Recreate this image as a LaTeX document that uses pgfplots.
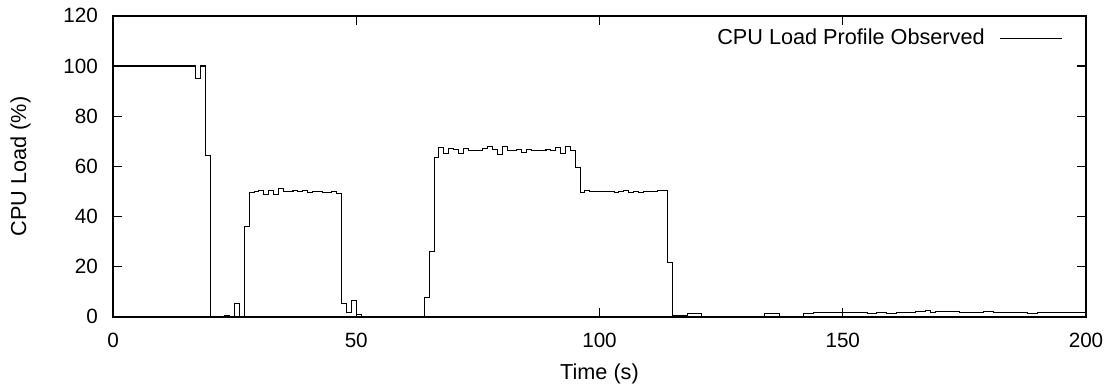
\documentclass[border=0pt]{standalone}
\usepackage{pgfplots}
\pgfplotsset{compat=1.18}
\usepackage{fontspec}
\setmainfont{Liberation Sans}
\begin{document}
\fontsize{15.5}{18}\selectfont
\begin{tikzpicture}
\useasboundingbox (-84.75pt,-54.2pt) rectangle (750.75pt,237.65pt);
\begin{axis}[
  at={(0,0)}, anchor=south west,
  scale only axis, width=729.75pt, height=225.75pt,
  xmin=0, xmax=200, ymin=0, ymax=120,
  xtick={0,50,100,150,200}, ytick={0,20,40,60,80,100,120},
  minor tick num=0,
  major tick length=7pt,
  tick align=inside,
  axis line style={line width=1.1pt, black},
  tick style={line width=0.9pt, black},
  /pgf/number format/assume math mode=true,
  ticklabel style={font=\fontsize{15.5}{18}\selectfont},
  yticklabel style={xshift=-6pt},
  xticklabel style={yshift=-6.8pt},
  xlabel={Time (s)}, ylabel={CPU Load (\%)},
  label style={font=\fontsize{16.25}{19}\selectfont},
  xlabel style={at={(axis description cs:0.5,-0.188)}, anchor=center},
  ylabel style={at={(axis description cs:-0.0951,0.5)}, anchor=center},
  legend plot pos=right,
  legend cell align=right,
  legend image code/.code={\path (0pt,0pt); \draw[#1] (9pt,0pt) -- (55.5pt,0pt);},
  legend style={draw=none, fill=none, inner sep=0pt,
    at={(axis description cs:0.9760,0.9250)}, anchor=east,
    font=\fontsize{16.25}{19}\selectfont},
]
\addplot[const plot, black, line width=0.8pt] table {
t v
0 100
17 95
18 100
19 64.2
20 0
23 0.5
24 0
25 5.3
26 0
27 35.9
28 49.5
29 49.9
30 50.5
31 48.9
32 50.5
33 48.6
34 51.2
35 49.9
36 49.9
37 50.2
38 49.9
39 50.2
40 49.5
41 49.9
42 49.9
43 49.5
44 49.5
45 49.9
46 49.2
47 5.3
48 1.6
49 6.4
50 1.1
51 0.3
57 0.2
64 7.6
65 25.9
66 63.6
67 67.6
68 65.2
69 67.2
70 66.9
71 65.2
72 67.2
73 66.5
74 66.5
75 66.2
76 67.2
77 67.8
78 66.9
79 64.9
80 67.8
81 66.2
82 66.5
83 66.9
84 65.6
85 66.9
86 66.2
87 66.2
88 66.2
89 66.9
90 66.2
91 67.6
92 65.2
93 68.1
94 66.5
95 59.4
96 49.6
97 50.5
98 49.9
99 50.1
100 49.9
101 50.1
102 50.1
103 49.6
104 50.1
105 50.3
106 49.6
107 50.1
108 49.6
109 50.1
110 49.9
111 50.1
112 50.3
113 50.3
114 21.7
115 0.4
118 1.2
121 0.3
134 1.2
137 0.3
142 1.3
144 1.75
150 1.6
151 1.75
155 1.3
157 1.6
159 1.3
161 1.6
163 1.75
165 2.0
167 2.4
168 1.75
169 2.0
174 1.75
179 2.0
181 1.75
188 1.3
190 1.6
193 1.9
196 1.75
200 1.75
};
\addlegendentry{CPU Load Profile Observed}
\end{axis}
\end{tikzpicture}
\end{document}
